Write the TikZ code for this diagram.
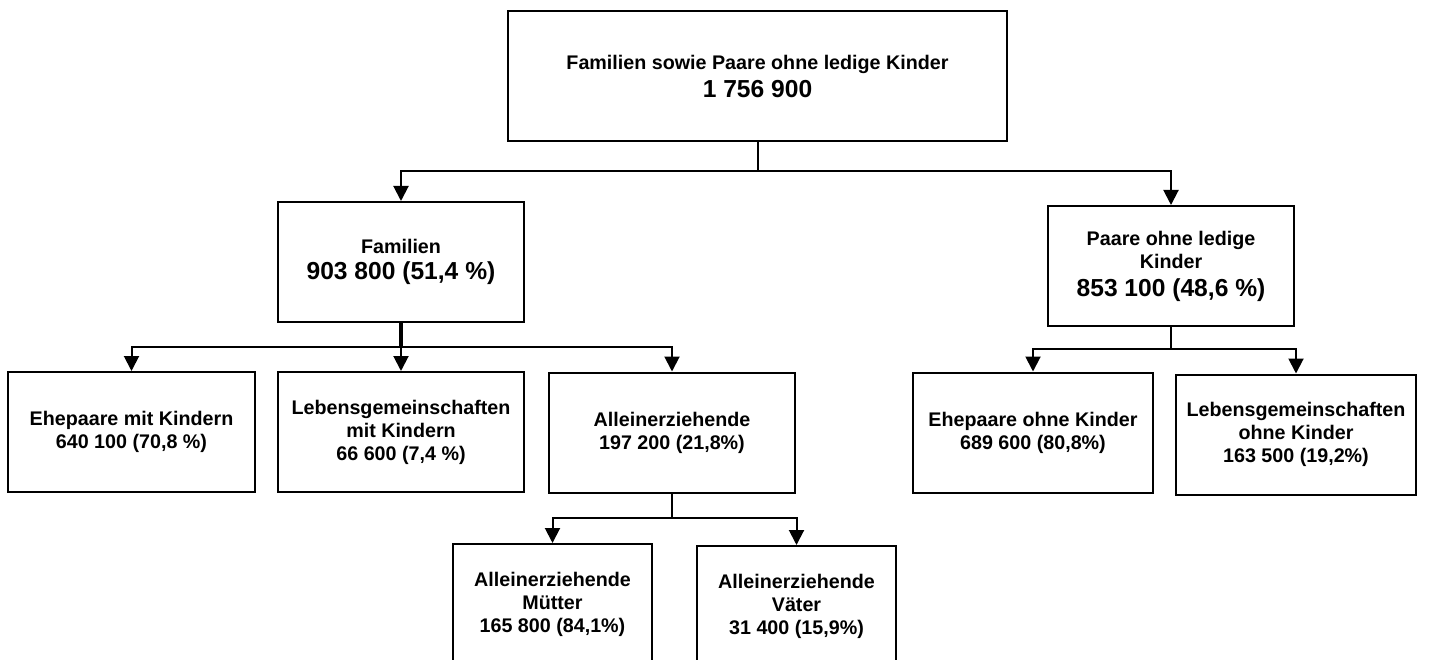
\documentclass[tikz,border=0pt]{standalone}
\usepackage{fontspec}
\setmainfont{Liberation Sans}
\usetikzlibrary{arrows.meta, positioning, calc}
\newcommand{\bignum}[1]{{\fontsize{24.6}{28}\selectfont #1}}

\begin{document}
\begin{tikzpicture}[
  x=1pt, y=-1pt,
  box/.style={draw, line width=2pt, minimum width=#1, minimum height=120pt, align=center, inner sep=4pt, font=\fontsize{19.7}{23}\selectfont\bfseries},
  conn/.style={line width=2pt, -{Triangle[width=15pt, length=15pt]}},
]
  \useasboundingbox (0,0) rectangle (1435,660);

  \node[box=499pt, minimum height=130pt] (total) at (757.5,76) {Familien sowie Paare ohne ledige Kinder\\[5pt]\bignum{1 756 900}};
  \node[box=246pt] (fam) at (401,262) {Familien\\[3pt]\bignum{903 800 (51,4 \%)}};
  \node[box=246pt] (paare) at (1171,266) {Paare ohne ledige\\Kinder\\[5pt]\bignum{853 100 (48,6 \%)}};

  \node[box=247pt] (ehemit) at (131.5,432) {Ehepaare mit Kindern\\640 100 (70,8 \%)};
  \node[box=246pt] (lgmit) at (401,432) {Lebensgemeinschaften\\mit Kindern\\66 600 (7,4 \%)};
  \node[box=246pt] (allein) at (672,432.5) {Alleinerziehende\\197 200 (21,8\%)};
  \node[box=240pt] (eheohne) at (1033,432.5) {Ehepaare ohne Kinder\\689 600 (80,8\%)};
  \node[box=240pt] (lgohne) at (1296,434.5) {Lebensgemeinschaften\\ohne Kinder\\163 500 (19,2\%)};

  \node[box=199pt] (muetter) at (552.5,604) {Alleinerziehende\\Mütter\\165 800 (84,1\%)};
  \node[box=199pt] (vaeter) at (796.5,606) {Alleinerziehende\\Väter\\31 400 (15,9\%)};

  \coordinate (bustotal) at ($(total.south)!.5!(total.south |- fam.north)$);
  \coordinate (busfam) at ($(fam.south)!.5!(fam.south |- lgmit.north)$);
  \coordinate (buspaare) at ($(paare.south)!.5!(paare.south |- eheohne.north)$);
  \coordinate (busallein) at ($(allein.south)!.5!(allein.south |- muetter.north)$);

  \draw[line width=2pt] (total.south) -- (bustotal);
  \draw[conn] (bustotal) -| (fam.north);
  \draw[conn] (bustotal) -| (paare.north);

  \draw[line width=4pt] (fam.south) -- (busfam);
  \draw[conn] (busfam) -| (ehemit.north);
  \draw[conn] (busfam) -- (lgmit.north);
  \draw[conn] (busfam) -| (allein.north);

  \draw[line width=2.5pt] (paare.south) -- (buspaare);
  \draw[conn] (buspaare) -| (eheohne.north);
  \draw[conn] (buspaare) -| (lgohne.north);

  \draw[line width=2pt] (allein.south) -- (busallein);
  \draw[conn] (busallein) -| (muetter.north);
  \draw[conn] (busallein) -| (vaeter.north);
\end{tikzpicture}
\end{document}
